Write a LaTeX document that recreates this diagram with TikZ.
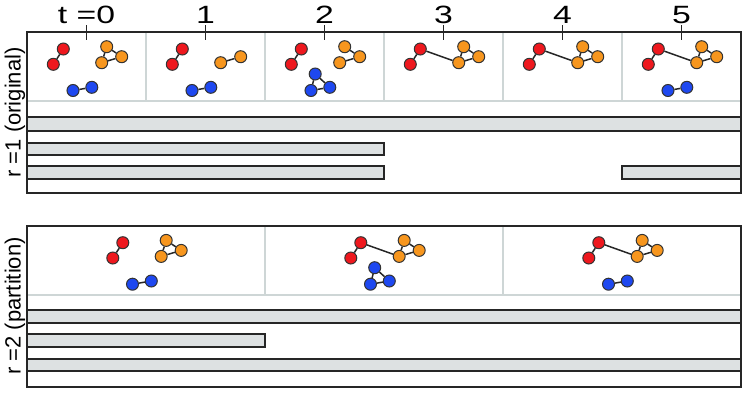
\documentclass[tikz,border=0pt]{standalone}
\usepackage{fontspec}
\setmainfont{Liberation Sans}
\usetikzlibrary{positioning}
\definecolor{gred}{RGB}{238,24,30}
\definecolor{gorange}{RGB}{247,150,30}
\definecolor{gblue}{RGB}{30,72,240}
\definecolor{bargray}{RGB}{221,225,226}
\definecolor{sepgray}{RGB}{206,214,214}
\tikzset{
  vtx/.style={circle,draw=black!80,line width=.5pt,inner sep=0pt,minimum size=6pt},
  gedge/.style={draw=black!85,line width=.75pt},
  frame/.style={draw=black!85,line width=1pt},
  sepline/.style={draw=sepgray,line width=.6pt},
  stripbox/.style={fill=bargray,draw=black!85,line width=1pt},
  toplabel/.style={anchor=base,inner sep=0pt,font=\fontsize{12.5}{14}\selectfont},
  sidelabel/.style={rotate=90,inner sep=0pt,font=\fontsize{11}{13}\selectfont},
}
\newcommand{\redpair}[1]{%
  \node[vtx,fill=gred] (#1ra) at (-23.2,17) {};
  \node[vtx,fill=gred] (#1rb) at (-33.2,32.3) {};
  \draw[gedge] (#1ra) -- (#1rb);
}
\newcommand{\orangepair}[1]{%
  \node[vtx,fill=gorange] (#1ol) at (15.2,30.7) {};
  \node[vtx,fill=gorange] (#1or) at (35.2,24.7) {};
  \draw[gedge] (#1ol) -- (#1or);
}
\newcommand{\orangetop}[1]{%
  \node[vtx,fill=gorange] (#1ot) at (20.2,14.7) {};
  \draw[gedge] (#1ot) -- (#1or);
}
\newcommand{\bluepair}[1]{%
  \node[vtx,fill=gblue] (#1bl) at (-13.5,58.5) {};
  \node[vtx,fill=gblue] (#1br) at (5.3,55.3) {};
  \draw[gedge] (#1bl) -- (#1br);
}
\newcommand{\bluetop}[1]{%
  \node[vtx,fill=gblue] (#1bt) at (-9.3,42) {};
  \draw[gedge] (#1bt) -- (#1bl) (#1bt) -- (#1br);
}
\newcommand{\stripbar}[4]{%
  \filldraw[stripbox] (#1,#3) rectangle (#2,#4);
}

\begin{document}
\begin{tikzpicture}[x=.5pt,y=-.5pt]
  \useasboundingbox (0,0) rectangle (746,392);
  % r = 1, one snapshot per step
  \stripbar{27}{741}{117}{130.5}
  \stripbar{27}{384}{142.5}{155}
  \stripbar{27}{384}{166}{179}
  \stripbar{622}{741}{166}{179}
  \draw[sepline] (27,101) -- (741,101);
  \foreach \xd in {146,265,384,503,622}{\draw[sepline] (\xd,32) -- (\xd,101);}
  \draw[frame] (27,32) rectangle (741,193);
  \foreach \cx/\lbl [count=\i from 0] in {86.5/t =0,205.5/1,324.5/2,443.5/3,562.5/4,681.5/5}{
    \draw[black!85,line width=.65pt] (\cx,25) -- (\cx,40);
    \node[toplabel] (tl\i) at (\cx,23) {\scalebox{1.35}[1]{\lbl}};
  }
  \node[sidelabel] (rone) at (15,112.5) {r =1 (original)};
  \begin{scope}[shift={(86.5,32)}]
    \redpair{a} \orangepair{a} \orangetop{a} \bluepair{a}
    \draw[gedge] (aot) -- (aol);
  \end{scope}
  \begin{scope}[shift={(205.5,32)}]
    \redpair{b} \orangepair{b} \bluepair{b}
  \end{scope}
  \begin{scope}[shift={(324.5,32)}]
    \redpair{c} \orangepair{c} \orangetop{c} \bluepair{c} \bluetop{c}
  \end{scope}
  \begin{scope}[shift={(443.5,32)}]
    \redpair{d} \orangepair{d} \orangetop{d}
    \draw[gedge] (dot) -- (dol) (dra) -- (dol);
  \end{scope}
  \begin{scope}[shift={(562.5,32)}]
    \redpair{e} \orangepair{e} \orangetop{e}
    \draw[gedge] (eot) -- (eol) (era) -- (eol);
  \end{scope}
  \begin{scope}[shift={(681.5,32)}]
    \redpair{f} \orangepair{f} \orangetop{f} \bluepair{f}
    \draw[gedge] (fot) -- (fol) (fra) -- (fol);
  \end{scope}
  % r = 2, merged snapshots
  \stripbar{27}{741}{310}{322.7}
  \stripbar{27}{265}{334.3}{346.7}
  \stripbar{27}{741}{359}{371}
  \draw[sepline] (27,295) -- (741,295);
  \foreach \xd in {265,503}{\draw[sepline] (\xd,225.7) -- (\xd,295);}
  \draw[frame] (27,225.7) rectangle (741,386.7);
  \node[sidelabel] (rtwo) at (15,306) {r =2 (partition)};
  \begin{scope}[shift={(146,225.7)}]
    \redpair{p} \orangepair{p} \orangetop{p} \bluepair{p}
    \draw[gedge] (pot) -- (pol);
  \end{scope}
  \begin{scope}[shift={(384,225.7)}]
    \redpair{q} \orangepair{q} \orangetop{q} \bluepair{q} \bluetop{q}
    \draw[gedge] (qot) -- (qol) (qra) -- (qol);
  \end{scope}
  \begin{scope}[shift={(622,225.7)}]
    \redpair{s} \orangepair{s} \orangetop{s} \bluepair{s}
    \draw[gedge] (sot) -- (sol) (sra) -- (sol);
  \end{scope}
\end{tikzpicture}
\end{document}
